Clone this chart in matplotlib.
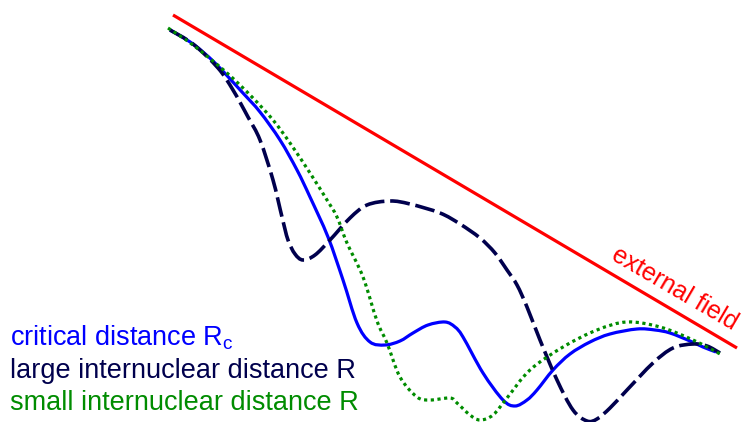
import numpy as np
import matplotlib.pyplot as plt
from matplotlib.path import Path
from matplotlib.patches import PathPatch

# Traced curve shapes (screen coordinates, y grows downwards)
field_x = [173, 737]
field_y = [15, 348]

critical_x = [170, 193, 215, 242, 260, 280, 297, 310, 328, 343, 357, 370, 385, 400, 413, 428,
              445, 455, 463, 483, 503, 515, 527, 537, 553, 570, 590, 610, 637, 655, 670, 690,
              703, 716]
critical_y = [30, 44, 63, 92, 112, 140, 170, 197, 237, 280, 323, 342, 345, 341, 333, 325,
              322, 327, 337, 373, 400, 406, 400, 390, 370, 354, 342, 334, 329, 330, 333, 341,
              347, 352]

large_x = [170, 193, 218, 233, 248, 260, 273, 282, 288, 295, 303, 315, 330, 350, 367, 390,
           410, 440, 460, 480, 495, 507, 517, 527, 540, 557, 573, 587, 597, 610, 627, 653,
           673, 693, 707, 720]
large_y = [30, 44, 68, 90, 117, 140, 180, 217, 240, 254, 260, 255, 240, 218, 205, 201,
           204, 213, 224, 238, 253, 270, 285, 307, 340, 380, 410, 421, 419, 408, 390, 363,
           348, 344, 346, 353]

small_x = [168, 193, 227, 252, 273, 290, 310, 327, 337, 347, 363, 377, 387, 400, 417, 430,
           450, 457, 470, 480, 493, 507, 530, 563, 597, 627, 660, 693, 722]
small_y = [28, 45, 73, 97, 120, 143, 173, 200, 217, 243, 277, 321, 343, 377, 397, 400,
           398, 403, 415, 420, 415, 398, 370, 347, 330, 322, 327, 340, 355]

labels = ['critical distance R$_\\mathregular{c}$',
          'large internuclear distance R',
          'small internuclear distance R']

BLUE = '#0000ff'
NAVY = '#00004d'
GREEN = '#008c00'
RED = '#ff0000'


def smooth_path(xs, ys):
    """Smooth curve through the traced points (Catmull-Rom as cubic Beziers)."""
    p = np.column_stack([xs, ys]).astype(float)
    p = np.vstack([p[0], p, p[-1]])
    verts = [p[1]]
    codes = [Path.MOVETO]
    for i in range(1, len(p) - 2):
        c1 = p[i] + (p[i + 1] - p[i - 1]) / 6
        c2 = p[i + 1] - (p[i + 2] - p[i]) / 6
        verts += [c1, c2, p[i + 1]]
        codes += [Path.CURVE4] * 3
    return Path(verts, codes)


plt.rcParams['font.family'] = ['Liberation Sans', 'DejaVu Sans']

fig = plt.figure(figsize=(7.45, 4.22), dpi=100)
ax = fig.add_axes([0, 0, 1, 1])
ax.set_xlim(0, 745)
ax.set_ylim(422, 0)
ax.axis('off')

ax.plot(field_x, field_y, color=RED, lw=2.3, solid_capstyle='butt')

ax.add_patch(PathPatch(smooth_path(critical_x, critical_y), fill=False,
                       edgecolor=BLUE, lw=2.3))
ax.add_patch(PathPatch(smooth_path(large_x, large_y), fill=False,
                       edgecolor=NAVY, lw=2.6, linestyle=(0, (5.5, 1.6))))
ax.add_patch(PathPatch(smooth_path(small_x, small_y), fill=False,
                       edgecolor=GREEN, lw=2.3, linestyle=(0, (1.0, 1.1))))

ax.text(671, 295, 'external field', color=RED, fontsize=18, rotation=-30.3,
        rotation_mode='anchor', ha='center', va='baseline')

for i, (label, col) in enumerate(zip(labels, [BLUE, NAVY, GREEN])):
    ax.text(10, 346 + 32 * i, label, color=col, fontsize=19.5, ha='left', va='baseline')

fig.savefig('out.png', dpi=100)
